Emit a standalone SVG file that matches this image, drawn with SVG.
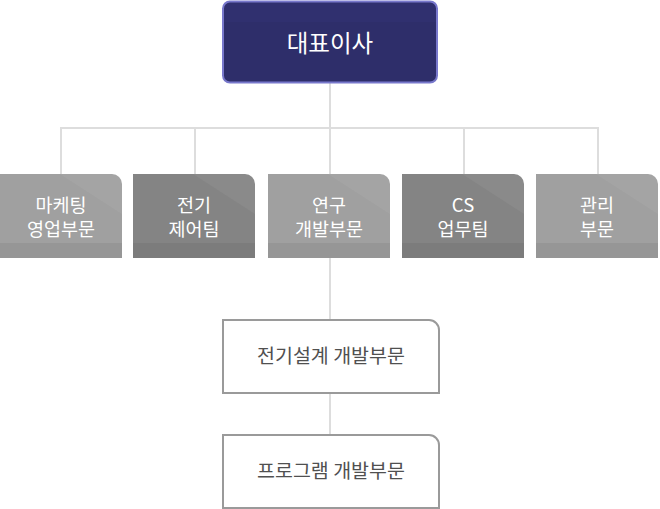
<svg xmlns="http://www.w3.org/2000/svg" width="660" height="509" viewBox="0 0 660 509">
<style>
.conn{stroke:#dddddd;stroke-width:2;fill:none}
.dtxt{font-family:"Noto Sans CJK KR","Noto Sans",sans-serif;font-size:18.5px;fill:#ffffff;text-anchor:middle}
.btxt{font-family:"Noto Sans CJK KR","Noto Sans",sans-serif;font-size:19.5px;fill:#505050;text-anchor:middle}
.light{fill:#a0a0a0}
.dark{fill:#848484}
.band{fill:#000000;fill-opacity:0.06}
.sheen{fill:#ffffff;fill-opacity:0.05}
.sub{fill:#ffffff;stroke:#9a9a9a;stroke-width:2}
</style>
<defs>
<path id="dept" d="M0,0 H112 A10,10 0 0 1 122,10 V84 H0 Z"/>
<path id="subbox" d="M0,0 H206 A10,10 0 0 1 216,10 V73 H0 Z"/>
</defs>
<g id="connectors">
<line class="conn" x1="330" y1="83" x2="330" y2="128"/>
<polyline class="conn" points="61,174 61,128 598,128 598,174"/>
<line class="conn" x1="195" y1="128" x2="195" y2="174"/>
<line class="conn" x1="330" y1="128" x2="330" y2="174"/>
<line class="conn" x1="464" y1="128" x2="464" y2="174"/>
<line class="conn" x1="330" y1="258" x2="330" y2="320"/>
<line class="conn" x1="330" y1="393" x2="330" y2="435"/>
</g>
<g id="ceo">
<rect x="223" y="1.5" width="214" height="81" rx="7" fill="#30306f" stroke="#7878cc" stroke-width="2"/>
<path d="M224,22 H436 V81 H224 Z" fill="#000000" fill-opacity="0.04"/>
<text x="330" y="51.5" font-family="'Noto Sans CJK KR','Noto Sans',sans-serif" font-size="23.5" fill="#ffffff" text-anchor="middle">대표이사</text>
</g>
<g id="dept1" transform="translate(0,174)">
<use href="#dept" class="light"/>
<path d="M60,0 H112 A10,10 0 0 1 122,10 V40 Z" class="sheen"/>
<rect x="0" y="69" width="122" height="15" class="band"/>
<text class="dtxt" x="61" y="37.5">마케팅</text>
<text class="dtxt" x="61" y="62">영업부문</text>
</g>
<g id="dept2" transform="translate(133,174)">
<use href="#dept" class="dark"/>
<path d="M60,0 H112 A10,10 0 0 1 122,10 V40 Z" class="sheen"/>
<rect x="0" y="69" width="122" height="15" class="band"/>
<text class="dtxt" x="61" y="37.5">전기</text>
<text class="dtxt" x="61" y="62">제어팀</text>
</g>
<g id="dept3" transform="translate(268,174)">
<use href="#dept" class="light"/>
<path d="M60,0 H112 A10,10 0 0 1 122,10 V40 Z" class="sheen"/>
<rect x="0" y="69" width="122" height="15" class="band"/>
<text class="dtxt" x="61" y="37.5">연구</text>
<text class="dtxt" x="61" y="62">개발부문</text>
</g>
<g id="dept4" transform="translate(402,174)">
<use href="#dept" class="dark"/>
<path d="M60,0 H112 A10,10 0 0 1 122,10 V40 Z" class="sheen"/>
<rect x="0" y="69" width="122" height="15" class="band"/>
<text class="dtxt" x="61" y="37.5">CS</text>
<text class="dtxt" x="61" y="62">업무팀</text>
</g>
<g id="dept5" transform="translate(536,174)">
<use href="#dept" class="light"/>
<path d="M60,0 H112 A10,10 0 0 1 122,10 V40 Z" class="sheen"/>
<rect x="0" y="69" width="122" height="15" class="band"/>
<text class="dtxt" x="61" y="37.5">관리</text>
<text class="dtxt" x="61" y="62">부문</text>
</g>
<g id="sub1" transform="translate(223,320)">
<use href="#subbox" class="sub"/>
<text class="btxt" x="108" y="43">전기설계 개발부문</text>
</g>
<g id="sub2" transform="translate(223,435)">
<use href="#subbox" class="sub"/>
<text class="btxt" x="108" y="42.5">프로그램 개발부문</text>
</g>
</svg>
